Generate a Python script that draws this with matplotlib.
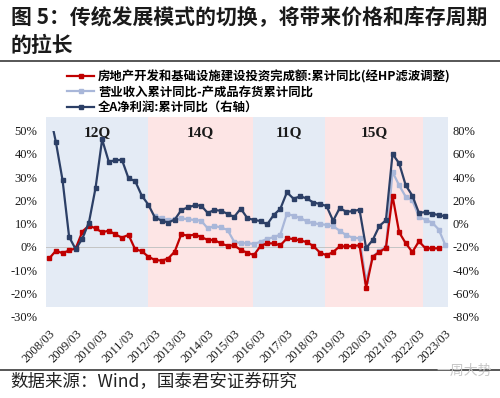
import numpy as np
import matplotlib
matplotlib.use('Agg')
import matplotlib.pyplot as plt
from matplotlib.lines import Line2D

plt.rcParams['font.family'] = ['Liberation Serif', 'Noto Sans CJK SC', 'DejaVu Sans']

# ---------------- data ----------------
tick_labels = ['2008/03', '2009/03', '2010/03', '2011/03', '2012/03', '2013/03',
               '2014/03', '2015/03', '2016/03', '2017/03', '2018/03', '2019/03',
               '2020/03', '2021/03', '2022/03', '2023/03']

# 房地产开发和基础设施建设投资完成额:累计同比(经HP滤波调整), quarterly 2008Q1..2022Q4 (left axis, %)
invest = [-4.9, -1.6, -2.7, -1.5, -0.6, 6.6, 9.2, 8.0, 6.3, 7.0,
          5.4, 4.0, 5.2, -1.0, -1.8, -4.2, -5.6, -5.9, -5.0, -2.0,
          5.5, 4.8, 5.3, 4.3, 3.0, 3.0, 1.5, 0.5, 0.7, -1.3,
          -2.5, -3.5, 0.4, 1.6, 1.5, 0.7, 3.7, 3.4, 2.8, 2.1,
          0.4, -2.4, -3.6, -2.2, 0.3, 0.2, 0.4, 0.7, -17.5, -4.2,
          -2.2, -0.4, 22.0, 6.3, 1.6, -2.2, 2.4, -0.6, -0.6, -0.6]

# 营业收入累计同比-产成品存货累计同比, quarterly 2008Q1..2023Q1 (left axis, %)
rev_minus_inv = [None] * 16 + [
    13.5, 12.3, 11.5, 12.0, 12.3, 11.9, 11.6, 11.3, 8.0, 9.0,
    8.4, 7.3, 2.3, 1.6, 1.6, 1.3, 2.2, 3.5, 4.2, 5.3,
    14.3, 13.4, 12.5, 11.0, 10.2, 9.8, 9.5, 8.9, 7.0, 5.0,
    4.0, 3.7, -14.6, -4.2, -1.6, -0.1, 32.3, 26.5, 21.6, 20.0,
    13.0, 11.6, 10.5, 7.5, 0.8]

# 全A净利润:累计同比 (右轴), quarterly 2008Q1..2023Q1 (right axis, %)
profit = [97.0, 70.0, 37.6, -11.4, -22.0, -12.8, 1.0, 30.7, 72.5, 53.4,
          54.5, 55.0, 39.0, 36.7, 24.2, 16.4, 5.3, 2.7, 1.0, 3.5,
          11.8, 14.0, 15.8, 15.6, 9.2, 11.8, 11.1, 8.5, 5.8, 13.0,
          4.8, 3.2, 2.3, -0.6, 7.5, 12.8, 27.0, 21.5, 23.5, 21.8,
          18.2, 17.0, 15.2, 2.5, 13.5, 10.2, 10.8, 12.0, -21.0, -14.0,
          -2.0, 3.0, 60.0, 52.0, 33.0, 24.2, 9.3, 10.0, 8.5, 7.5,
          6.3]

# cycle shading: boundaries (in quarter index) and labels
cycle_bounds = [15.0, 30.8, 41.8, 56.6]
cycle_labels = ['12Q', '14Q', '11Q', '15Q', '']

legend_labels = ['房地产开发和基础设施建设投资完成额:累计同比(经HP滤波调整)',
                 '营业收入累计同比-产成品存货累计同比',
                 '全A净利润:累计同比（右轴）']

# ---------------- styles ----------------
C_RED = '#C00000'
C_LIGHT = '#A9B7D9'
C_DARK = '#2C3F66'
C_BLUE_BG = '#E4EBF5'
C_PINK_BG = '#FDE5E5'
TXT = '#1a1a1a'
CJK = ['Noto Sans CJK SC', 'DejaVu Sans']

fig = plt.figure(figsize=(5, 3.98), dpi=100)
ax = fig.add_axes([0.0914, 0.2043, 0.8052, 0.4673])

n = len(profit)
x_all = np.arange(n)
xmin, xmax = -0.55, n - 0.55

# shading
edges = [xmin] + cycle_bounds + [xmax]
for k, (a, b) in enumerate(zip(edges[:-1], edges[1:])):
    ax.axvspan(a, b, ymin=0.054, ymax=1.074, color=C_BLUE_BG if k % 2 == 0 else C_PINK_BG,
               lw=0, clip_on=False, zorder=0)
    if cycle_labels[k]:
        ax.text((a + b) / 2, 49, cycle_labels[k], ha='center', va='center', fontsize=11,
                fontweight='bold', color=TXT, family=['Liberation Serif'], zorder=5)

ax.axhline(0, color='#C4C4C4', lw=0.7, zorder=1)

light_arr = np.array([np.nan if v is None else v for v in rev_minus_inv], dtype=float)
l_light, = ax.plot(x_all, light_arr, color=C_LIGHT, lw=1.6, marker='s', ms=2.6, zorder=2)
l_red, = ax.plot(np.arange(len(invest)), invest, color=C_RED, lw=1.6, marker='s', ms=2.6, zorder=3)

ax2 = ax.twinx()
l_dark, = ax2.plot(x_all, profit, color=C_DARK, lw=1.6, marker='s', ms=2.6, zorder=3)

ax.set_xlim(xmin, xmax)
ax.set_ylim(-30, 50)
ax2.set_ylim(-80, 80)

lt = list(range(-30, 51, 10))
ax.set_yticks(lt)
ax.set_yticklabels([f'{v}%' for v in lt])
rt = list(range(-80, 81, 20))
ax2.set_yticks(rt)
ax2.set_yticklabels([f'{v}%' for v in rt])

ax.set_xticks(np.arange(0, n, 4))
ax.set_xticklabels(tick_labels, rotation=45, ha='right', va='top', rotation_mode='anchor')

for a in (ax, ax2):
    for s in a.spines.values():
        s.set_visible(False)
ax.tick_params(axis='y', length=0, labelsize=9, pad=6, labelcolor=TXT)
ax.tick_params(axis='x', length=0, labelsize=9, pad=8, labelcolor=TXT)
ax2.tick_params(axis='y', length=0, labelsize=9, pad=3, labelcolor=TXT)

# legend
fig.legend([l_red, l_light, l_dark], legend_labels, loc='upper left',
           bbox_to_anchor=(67 / 500, 1 - 70.5 / 398), frameon=False,
           prop={'family': CJK, 'weight': 'bold', 'size': 8.9},
           handlelength=2.2, handletextpad=0.3, labelspacing=0.17,
           borderpad=0, borderaxespad=0, numpoints=1)

# title
fig.text(11 / 500, 1 - 16.5 / 398, '图 5：传统发展模式的切换，将带来价格和库存周期',
         family=CJK, fontweight='bold', fontsize=15, va='center', ha='left', color=TXT)
fig.text(11 / 500, 1 - 45.5 / 398, '的拉长',
         family=CJK, fontweight='bold', fontsize=15, va='center', ha='left', color=TXT)
fig.add_artist(Line2D([0, 1], [1 - 61 / 398] * 2, color='#3a3a3a', lw=1.2,
                      transform=fig.transFigure))
fig.add_artist(Line2D([0, 1], [1 - 370 / 398] * 2, color='#3a3a3a', lw=1.2,
                      transform=fig.transFigure))
fig.text(10 / 500, 1 - 382 / 398, '数据来源：Wind，国泰君安证券研究',
         family=CJK, fontsize=12.6, va='center', ha='left', color='#222222')
fig.text(436 / 500, 1 - 371 / 398, '一周大势', family=CJK, fontsize=10,
         va='center', ha='left', color='#C8C8C8')

fig.savefig('out.png', dpi=100)
